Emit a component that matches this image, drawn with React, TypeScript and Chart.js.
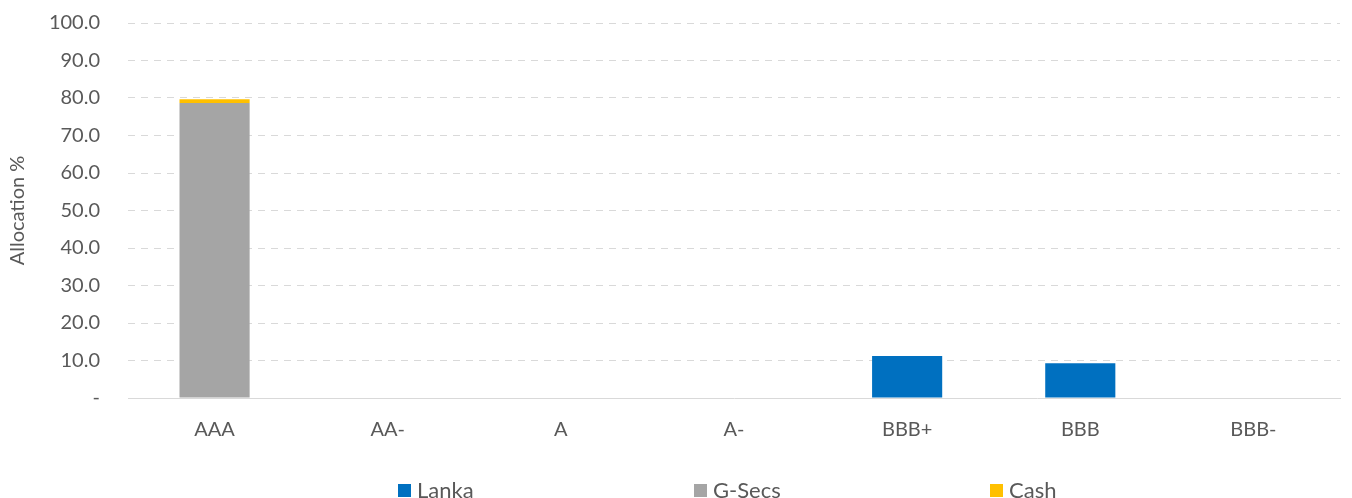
import React, { useEffect, useRef } from "react";
import { Chart, registerables } from "chart.js";

Chart.register(...registerables);

const categories = ["AAA", "AA-", "A", "A-", "BBB+", "BBB", "BBB-"];
const lankaValues = [0, 0, 0, 0, 11.2, 9.3, 0];
const gSecsValues = [78.7, 0, 0, 0, 0, 0, 0];
const cashValues = [1.0, 0, 0, 0, 0, 0, 0];
const seriesNames = ["Lanka", "G-Secs", "Cash"];
const seriesColors = ["#0070C0", "#A5A5A5", "#FFC000"];

const FONT = "Lato, 'Liberation Sans', sans-serif";
const TEXT = "#595959";

const bottomLegend = {
  id: "bottomLegend",
  afterDraw(chart: any) {
    const ctx = chart.ctx;
    const startX = 398;
    const slot = 296;
    const cy = 490;
    ctx.save();
    ctx.font = `22px ${FONT}`;
    ctx.textBaseline = "middle";
    ctx.textAlign = "left";
    chart.data.datasets.forEach((ds: any, i: number) => {
      const x = startX + i * slot;
      ctx.fillStyle = ds.backgroundColor;
      ctx.fillRect(x, cy - 6, 13, 13);
      ctx.fillStyle = TEXT;
      ctx.fillText(ds.label, x + 19, cy + 1);
    });
    ctx.restore();
  },
};

export default function App() {
  const ref = useRef<HTMLCanvasElement | null>(null);
  useEffect(() => {
    document.body.style.margin = "0";
    const canvas = ref.current!;
    const chart = new Chart(canvas, {
      type: "bar",
      data: {
        labels: categories,
        datasets: [
          { label: seriesNames[0], data: lankaValues, backgroundColor: seriesColors[0] },
          { label: seriesNames[1], data: gSecsValues, backgroundColor: seriesColors[1] },
          { label: seriesNames[2], data: cashValues, backgroundColor: seriesColors[2] },
        ],
      },
      options: {
        animation: false,
        responsive: false,
        maintainAspectRatio: false,
        datasets: { bar: { categoryPercentage: 1, barPercentage: 0.405 } },
        layout: { padding: { top: 23, right: 12, bottom: 40, left: 0 } },
        plugins: {
          legend: { display: false },
          tooltip: { enabled: false },
        },
        scales: {
          x: {
            stacked: true,
            grid: { display: false, drawTicks: false },
            border: { display: true, color: "#D9D9D9", width: 1 },
            ticks: { color: TEXT, font: { family: FONT, size: 20 }, padding: 20 },
            afterFit: (s: any) => { s.height = 60; },
          },
          y: {
            stacked: true,
            min: 0,
            max: 100,
            border: { display: false, dash: [7, 6] },
            grid: { color: "#D9D9D9", drawTicks: true, tickLength: 25, tickColor: "rgba(0,0,0,0)", lineWidth: 1 },
            ticks: {
              stepSize: 10,
              color: TEXT,
              font: { family: FONT, size: 20 },
              padding: 3,
              callback: (v: any) => (Number(v) === 0 ? "-" : Number(v).toFixed(1)),
            },
            title: {
              display: true,
              text: "Allocation %",
              color: TEXT,
              font: { family: FONT, size: 20 },
              padding: { top: 6, bottom: 0 },
            },
            afterFit: (s: any) => { s.width = 128; },
          },
        },
      },
      plugins: [bottomLegend],
    } as any);
    return () => chart.destroy();
  }, []);
  return (
    <div style={{ position: "fixed", left: 0, top: 0, width: 1352, height: 498 }}>
      <canvas ref={ref} width={1352} height={498} style={{ display: "block" }} />
    </div>
  );
}
